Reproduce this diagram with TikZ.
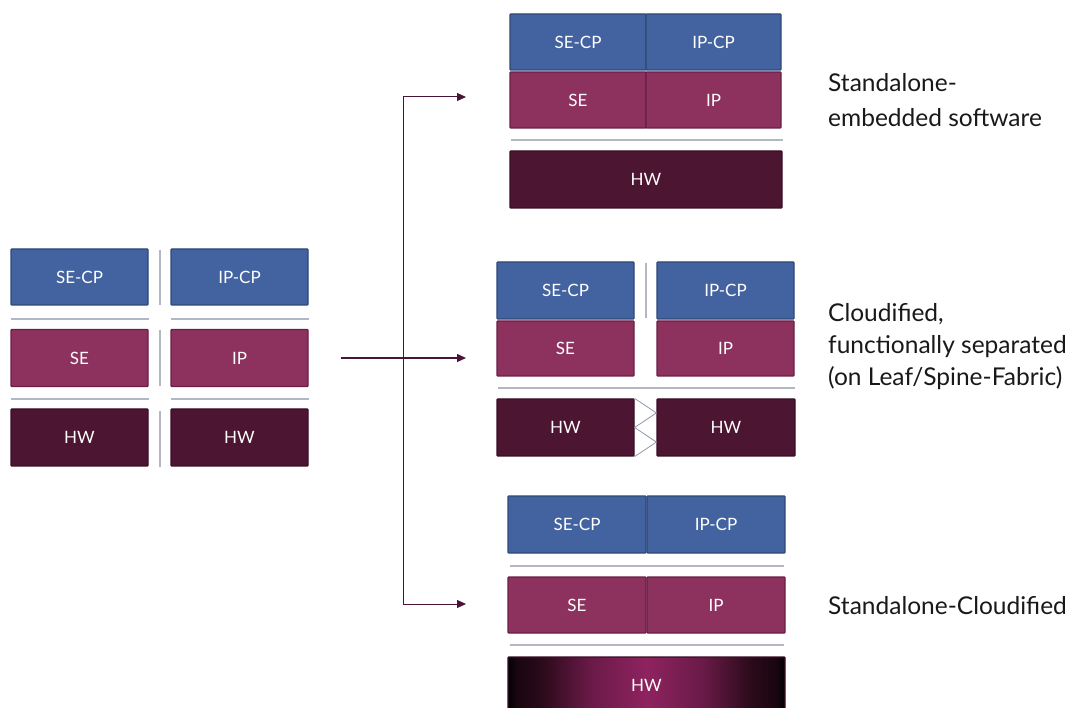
\documentclass[tikz,border=0pt]{standalone}
\usepackage{fontspec}
\setmainfont{Lato}
\usetikzlibrary{arrows.meta,calc}
\definecolor{cpfill}{HTML}{4262A0}
\definecolor{cpdraw}{HTML}{2E4878}
\definecolor{sefill}{HTML}{8D325F}
\definecolor{sedraw}{HTML}{6A1E45}
\definecolor{hwfill}{HTML}{4C1532}
\definecolor{hwdraw}{HTML}{3A0E25}
\definecolor{sepcol}{HTML}{B3B7C2}
\definecolor{zigcol}{HTML}{8C97A8}
\definecolor{arrcol}{HTML}{4A1438}
\definecolor{hwmid}{HTML}{8E2360}
\definecolor{hwdark}{HTML}{2A0A1A}
\pgfdeclarehorizontalshading{hwshade}{100bp}{color(0bp)=(black); color(25bp)=(black); color(26.5bp)=(hwdark!60!black); color(31bp)=(hwdark); color(40bp)=(hwmid!75!black); color(50bp)=(hwmid); color(60bp)=(hwmid!75!black); color(69bp)=(hwdark); color(73.5bp)=(hwdark!60!black); color(75bp)=(black); color(100bp)=(black)}
\tikzset{
  box/.style={draw, line width=1.2pt, rounded corners=0.8pt, text=white, inner sep=0pt, font=\fontsize{17}{20}\selectfont},
  cpbox/.style={box, fill=cpfill, draw=cpdraw},
  sebox/.style={box, fill=sefill, draw=sedraw},
  hwbox/.style={box, fill=hwfill, draw=hwdraw},
  sepline/.style={draw=sepcol, line width=1.4pt},
  zig/.style={draw=zigcol, line width=0.8pt},
  arr/.style={draw=arrcol, line width=1pt, -{Triangle[length=9pt,width=8pt]}},
  lbl/.style={anchor=west, align=left, text=black!90, inner sep=0pt}
}
\begin{document}
\begin{tikzpicture}[x=1pt,y=-1pt]
\useasboundingbox (0,0) rectangle (1082,708);
% left group
\node[cpbox, minimum width=137pt, minimum height=56pt] (lsecp) at (79.5,277) {SE-CP};
\node[cpbox, minimum width=137pt, minimum height=56pt] (lipcp) at (239.5,277) {IP-CP};
\node[sebox, minimum width=137pt, minimum height=57pt] (lse) at (79.5,358) {SE};
\node[sebox, minimum width=137pt, minimum height=57pt] (lip) at (239.5,358) {IP};
\node[hwbox, minimum width=137pt, minimum height=57pt] (lhw1) at (79.5,437.5) {HW};
\node[hwbox, minimum width=137pt, minimum height=57pt] (lhw2) at (239.5,437.5) {HW};
\draw[sepline] (160,250) -- (160,305);
\draw[sepline] (160,330) -- (160,386);
\draw[sepline] (160,411) -- (160,467);
\draw[sepline] (11,319) -- (149,319);
\draw[sepline] (171,319) -- (309,319);
\draw[sepline] (11,399) -- (149,399);
\draw[sepline] (171,399) -- (309,399);
% top group
\node[cpbox, minimum width=136pt, minimum height=56pt] (tsecp) at (578,42) {SE-CP};
\node[cpbox, minimum width=135pt, minimum height=56pt] (tipcp) at (713.5,42) {IP-CP};
\node[sebox, minimum width=136pt, minimum height=56pt] (tse) at (578,100) {SE};
\node[sebox, minimum width=135pt, minimum height=56pt] (tip) at (713.5,100) {IP};
\draw[sepline] (511,140) -- (783,140);
\node[hwbox, minimum width=272pt, minimum height=57pt] (thw) at (646,179.5) {HW};
% middle group
\node[cpbox, minimum width=137pt, minimum height=57pt] (msecp) at (565.5,290.5) {SE-CP};
\node[cpbox, minimum width=137pt, minimum height=57pt] (mipcp) at (725.5,290.5) {IP-CP};
\node[sebox, minimum width=137pt, minimum height=55pt] (mse) at (565.5,348.5) {SE};
\node[sebox, minimum width=137pt, minimum height=55pt] (mip) at (725.5,348.5) {IP};
\draw[sepline] (646,263) -- (646,318);
\draw[sepline] (498,388) -- (795,388);
\node[hwbox, minimum width=137pt, minimum height=57pt] (mhw1) at (565.5,427.5) {HW};
\node[hwbox, minimum width=138pt, minimum height=57pt] (mhw2) at (726,427.5) {HW};
\draw[zig] (mhw1.north east) -- ($(mhw2.north west)!0.25!(mhw2.south west)$)
  -- ($(mhw1.north east)!0.5!(mhw1.south east)$)
  -- ($(mhw2.north west)!0.75!(mhw2.south west)$) -- (mhw1.south east);
% bottom group
\node[cpbox, minimum width=138pt, minimum height=57pt] (bsecp) at (577,524.5) {SE-CP};
\node[cpbox, minimum width=138pt, minimum height=57pt] (bipcp) at (716,524.5) {IP-CP};
\draw[sepline] (510,566) -- (784,566);
\node[sebox, minimum width=138pt, minimum height=56pt] (bse) at (577,605) {SE};
\node[sebox, minimum width=138pt, minimum height=56pt] (bip) at (716,605) {IP};
\draw[sepline] (510,645) -- (784,645);
\node[box, draw=hwdraw, shading=hwshade, minimum width=277pt, minimum height=57pt] (bhw) at (646.5,685.5) {HW};
% arrows
\coordinate (src) at (341,358);
\coordinate (split) at (403,358);
\coordinate (ttop) at (466,97);
\coordinate (tmid) at (466,358);
\coordinate (tbot) at (466,604);
\draw[arr] (split) |- (ttop);
\draw[arr] (split) |- (tbot);
\draw[arr, line width=1.4pt] (src) -- (tmid);
% labels
\node[lbl, font=\fontsize{24.5}{35}\selectfont] (l1) at (828,100) {Standalone-\\embedded software};
\node[lbl, font=\fontsize{24.5}{32}\selectfont] (l2) at (828,347) {Cloudified,\\functionally separated\\(on Leaf/Spine-Fabric)};
\node[lbl, font=\fontsize{24.5}{31}\selectfont] (l3) at (828,606) {Standalone-Cloudified};
\end{tikzpicture}
\end{document}
